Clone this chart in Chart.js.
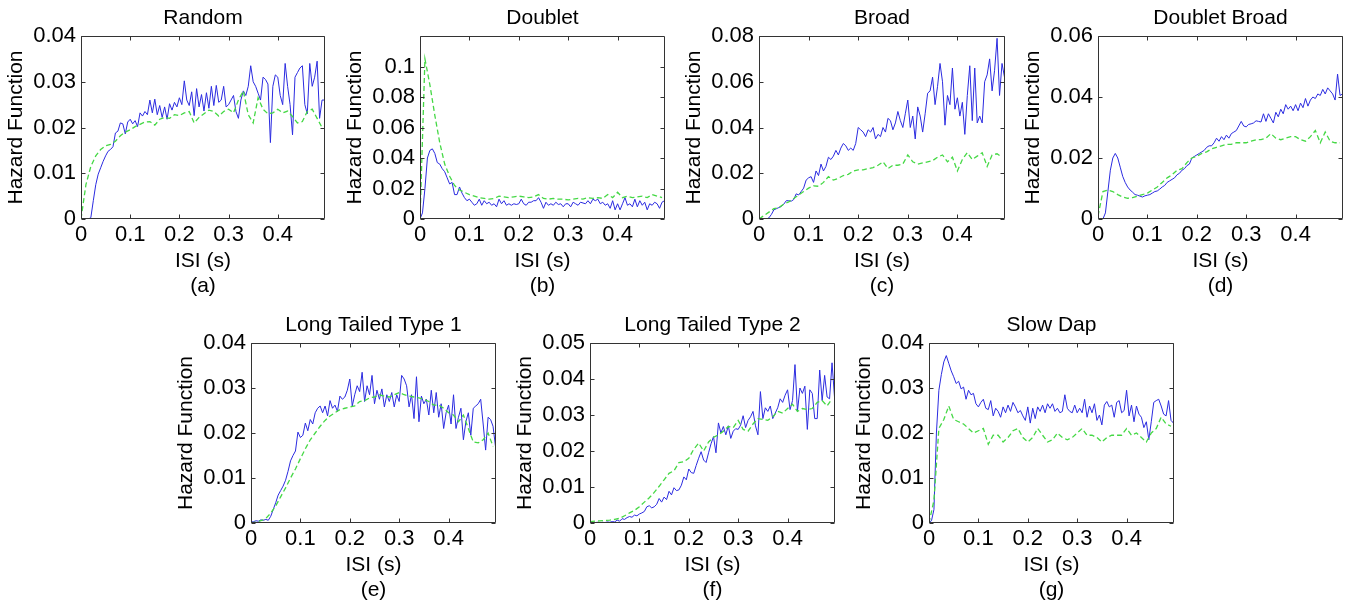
<!DOCTYPE html>
<html>
<head>
<meta charset="utf-8">
<script src="https://cdn.jsdelivr.net/npm/chart.js@4.4.0/dist/chart.umd.min.js"></script>
<style>
  body { margin: 0; background: #fff; }
  #fig { position: relative; width: 1347px; height: 605px; overflow: hidden; background: #fff; }
  #fig canvas { position: absolute; }
</style>
</head>
<body>
<div id="fig"></div>
<script>
// ISI bins (s): fine bins for the measured curve, coarse ones for the model curve
var isiFine = [0,0.005,0.01,0.015,0.02,0.025,0.03,0.035,0.04,0.045,
  0.05,0.055,0.06,0.065,0.07,0.075,0.08,0.085,0.09,0.095,
  0.1,0.105,0.11,0.115,0.12,0.125,0.13,0.135,0.14,0.145,
  0.15,0.155,0.16,0.165,0.17,0.175,0.18,0.185,0.19,0.195,
  0.2,0.205,0.21,0.215,0.22,0.225,0.23,0.235,0.24,0.245,
  0.25,0.255,0.26,0.265,0.27,0.275,0.28,0.285,0.29,0.295,
  0.3,0.305,0.31,0.315,0.32,0.325,0.33,0.335,0.34,0.345,
  0.35,0.355,0.36,0.365,0.37,0.375,0.38,0.385,0.39,0.395,
  0.4,0.405,0.41,0.415,0.42,0.425,0.43,0.435,0.44,0.445,
  0.45,0.455,0.46,0.465,0.47,0.475,0.48,0.485,0.49,0.495];
var isiCoarse = [0,0.01,0.02,0.03,0.04,0.05,0.06,0.07,0.08,0.09,
  0.1,0.11,0.12,0.13,0.14,0.15,0.16,0.17,0.18,0.19,
  0.2,0.21,0.22,0.23,0.24,0.25,0.26,0.27,0.28,0.29,
  0.3,0.31,0.32,0.33,0.34,0.35,0.36,0.37,0.38,0.39,
  0.4,0.41,0.42,0.43,0.44,0.45,0.46,0.47,0.48,0.49];

var titles = ["Random", "Doublet", "Broad", "Doublet Broad", "Long Tailed Type 1", "Long Tailed Type 2", "Slow Dap"];
var letters = ["(a)", "(b)", "(c)", "(d)", "(e)", "(f)", "(g)"];
var xTicks = [0, 0.1, 0.2, 0.3, 0.4];
var yMax = [0.04, 0.12, 0.08, 0.06, 0.04, 0.05, 0.04];
var yTicks = [
  [0, 0.01, 0.02, 0.03, 0.04],
  [0, 0.02, 0.04, 0.06, 0.08, 0.1],
  [0, 0.02, 0.04, 0.06, 0.08],
  [0, 0.02, 0.04, 0.06],
  [0, 0.01, 0.02, 0.03, 0.04],
  [0, 0.01, 0.02, 0.03, 0.04, 0.05],
  [0, 0.01, 0.02, 0.03, 0.04]
];

// measured hazard (blue, solid)
var blueRandom = [0,0,0,0,0.0003,0.004,0.0075,0.0098,0.0112,0.0126,
  0.0138,0.0148,0.0152,0.0158,0.0188,0.0192,0.021,0.0208,0.0186,0.0212,
  0.0218,0.0208,0.0215,0.0202,0.0232,0.0225,0.0235,0.0228,0.026,0.0232,
  0.0262,0.0228,0.0248,0.0222,0.0245,0.0218,0.0252,0.0238,0.0255,0.0245,
  0.0265,0.025,0.0302,0.026,0.0248,0.0278,0.0226,0.0285,0.0245,0.0272,
  0.0236,0.0276,0.0242,0.029,0.0248,0.0292,0.0255,0.026,0.029,0.0245,
  0.025,0.026,0.027,0.0235,0.022,0.026,0.028,0.027,0.029,0.0335,
  0.030,0.029,0.0275,0.026,0.031,0.0305,0.0295,0.0167,0.029,0.0315,
  0.031,0.027,0.025,0.034,0.029,0.025,0.0184,0.031,0.032,0.033,
  0.0335,0.025,0.023,0.034,0.029,0.031,0.0345,0.022,0.026,0.026];
var blueDoublet = [0,0.004,0.02,0.04,0.045,0.046,0.043,0.037,0.036,0.033,
  0.031,0.027,0.023,0.024,0.016,0.016,0.021,0.017,0.014,0.012,
  0.013,0.011,0.009,0.01,0.013,0.009,0.012,0.01,0.011,0.009,
  0.01,0.008,0.013,0.01,0.012,0.009,0.01,0.009,0.01,0.0095,
  0.01,0.013,0.01,0.009,0.011,0.011,0.012,0.012,0.014,0.011,
  0.007,0.011,0.009,0.01,0.009,0.011,0.0095,0.01,0.008,0.01,
  0.01,0.008,0.011,0.01,0.009,0.011,0.0105,0.01,0.012,0.01,
  0.013,0.012,0.013,0.01,0.011,0.009,0.01,0.007,0.012,0.006,
  0.01,0.006,0.01,0.014,0.009,0.01,0.008,0.013,0.008,0.012,
  0.009,0.011,0.006,0.01,0.009,0.011,0.01,0.007,0.011,0.012];
var blueBroad = [0,0,0,0,0.0005,0.002,0.004,0.0045,0.005,0.0055,
  0.0065,0.008,0.008,0.0078,0.0085,0.011,0.0105,0.012,0.0135,0.017,
  0.018,0.0185,0.016,0.021,0.019,0.024,0.021,0.023,0.027,0.026,
  0.0275,0.03,0.028,0.031,0.033,0.032,0.03,0.031,0.03,0.033,
  0.04,0.039,0.038,0.036,0.039,0.038,0.04,0.035,0.037,0.036,
  0.04,0.038,0.044,0.043,0.039,0.042,0.047,0.043,0.04,0.046,
  0.052,0.04,0.045,0.035,0.049,0.045,0.038,0.046,0.055,0.056,
  0.062,0.05,0.058,0.068,0.06,0.041,0.054,0.05,0.066,0.048,
  0.053,0.045,0.051,0.037,0.054,0.067,0.043,0.066,0.042,0.045,
  0.042,0.06,0.063,0.07,0.056,0.065,0.079,0.054,0.068,0.062];
var blueDoubletBroad = [0,0,0,0.002,0.009,0.016,0.02,0.0215,0.02,0.017,
  0.014,0.012,0.0105,0.0095,0.0088,0.008,0.0078,0.0075,0.0072,0.0076,
  0.0078,0.008,0.0085,0.009,0.0092,0.0098,0.0105,0.011,0.012,0.0125,
  0.013,0.0135,0.0145,0.015,0.016,0.0165,0.0175,0.018,0.02,0.0205,
  0.021,0.0215,0.022,0.0225,0.0235,0.024,0.024,0.025,0.0265,0.0255,
  0.027,0.026,0.0275,0.0265,0.028,0.0285,0.029,0.0305,0.032,0.0305,
  0.0302,0.031,0.0312,0.0315,0.0322,0.032,0.0318,0.0345,0.032,0.0345,
  0.033,0.0315,0.035,0.0335,0.036,0.0345,0.0375,0.036,0.037,0.0355,
  0.0375,0.0355,0.038,0.0365,0.0395,0.037,0.039,0.04,0.0395,0.041,
  0.0405,0.0425,0.041,0.043,0.042,0.041,0.039,0.0475,0.0405,0.041];
var blueLongTailed1 = [0.0002,0.0003,0.0005,0.0004,0.0007,0.0006,0.0008,0.0006,0.0015,0.003,
  0.0045,0.0062,0.0072,0.0082,0.0095,0.0115,0.0138,0.015,0.016,0.0202,
  0.019,0.0195,0.0222,0.0205,0.023,0.022,0.0245,0.0255,0.026,0.0245,
  0.026,0.0238,0.0272,0.0255,0.0262,0.0248,0.0282,0.0275,0.028,0.0295,
  0.032,0.026,0.0285,0.0305,0.0292,0.0335,0.027,0.0305,0.0285,0.0328,
  0.0265,0.0295,0.0275,0.0298,0.0258,0.0285,0.027,0.029,0.0258,0.0285,
  0.027,0.0328,0.032,0.0305,0.0258,0.0285,0.0232,0.0325,0.0225,0.0282,
  0.0265,0.0275,0.024,0.0295,0.0245,0.029,0.0235,0.0265,0.021,0.0245,
  0.0262,0.022,0.0285,0.021,0.0235,0.0255,0.0185,0.0225,0.0245,0.0195,
  0.0255,0.026,0.0265,0.0275,0.022,0.0162,0.0235,0.023,0.0215,0.017];
var blueLongTailed2 = [0,0,0.0001,0.0002,0,0.0002,0.0001,0.0003,0.0002,0.0004,
  0.0003,0.0008,0.0005,0.0012,0.001,0.0015,0.0018,0.0016,0.0022,0.002,
  0.0025,0.0028,0.0032,0.0045,0.0048,0.0042,0.0045,0.0052,0.0068,0.0058,
  0.0072,0.0065,0.0088,0.0078,0.0098,0.009,0.0092,0.0105,0.0128,0.012,
  0.015,0.014,0.0138,0.016,0.018,0.0198,0.0175,0.0168,0.0195,0.022,
  0.024,0.0195,0.0278,0.025,0.0268,0.0245,0.027,0.0235,0.0255,0.0262,
  0.026,0.0272,0.0298,0.0265,0.0285,0.0295,0.031,0.027,0.0245,0.0365,
  0.029,0.032,0.031,0.0325,0.029,0.0305,0.032,0.0345,0.0335,0.0355,
  0.037,0.0315,0.034,0.044,0.031,0.0375,0.036,0.038,0.026,0.037,
  0.036,0.029,0.029,0.0425,0.034,0.041,0.035,0.0345,0.0445,0.035];
var blueSlowDap = [0,0.0005,0.003,0.02,0.0295,0.033,0.0358,0.0372,0.0355,0.0338,
  0.0325,0.031,0.0315,0.0298,0.0302,0.0275,0.0295,0.0285,0.0288,0.0265,
  0.0258,0.0268,0.0275,0.0255,0.0252,0.0272,0.0238,0.0255,0.0248,0.0235,
  0.0258,0.0245,0.0262,0.0248,0.0268,0.0258,0.0245,0.025,0.0238,0.0228,
  0.0258,0.0222,0.0255,0.0232,0.0258,0.0248,0.0262,0.0245,0.0265,0.0255,
  0.0265,0.0248,0.0255,0.0245,0.0248,0.0285,0.0255,0.0248,0.0245,0.0262,
  0.0245,0.0255,0.0245,0.0275,0.0235,0.026,0.0245,0.0265,0.0228,0.024,
  0.0218,0.0262,0.027,0.0258,0.0262,0.0235,0.0268,0.0272,0.0245,0.025,
  0.0295,0.0238,0.0262,0.0225,0.026,0.0242,0.0235,0.0212,0.0225,0.0185,
  0.0225,0.0268,0.0272,0.0275,0.026,0.0242,0.0238,0.0272,0.0228,0.0222];

// model hazard (green, dashed)
var greenRandom = [0,0.0075,0.0115,0.0138,0.0152,0.016,0.0163,0.017,0.0182,0.019,
  0.0195,0.0202,0.0207,0.0212,0.0213,0.0205,0.0218,0.0222,0.022,0.0228,
  0.0226,0.0232,0.0235,0.021,0.0222,0.023,0.0238,0.0235,0.0225,0.0235,
  0.024,0.0232,0.026,0.028,0.0228,0.021,0.0265,0.024,0.023,0.0232,
  0.024,0.0232,0.0236,0.0224,0.021,0.0213,0.0235,0.024,0.022,0.02];
var greenDoublet = [0,0.105,0.088,0.068,0.05,0.036,0.028,0.022,0.019,0.0175,
  0.016,0.015,0.014,0.0135,0.013,0.0135,0.015,0.0145,0.014,0.0145,
  0.015,0.0145,0.014,0.0145,0.016,0.0135,0.013,0.0135,0.013,0.013,
  0.0125,0.013,0.0135,0.013,0.014,0.0135,0.014,0.0135,0.016,0.014,
  0.0175,0.014,0.015,0.014,0.0145,0.015,0.014,0.016,0.015,0.014];
var greenBroad = [0,0.0015,0.003,0.0045,0.005,0.0065,0.0075,0.009,0.0105,0.012,
  0.0135,0.0145,0.0143,0.016,0.0185,0.017,0.0178,0.019,0.0195,0.021,
  0.0215,0.0215,0.022,0.0225,0.0235,0.025,0.022,0.0235,0.0235,0.024,
  0.028,0.025,0.024,0.0245,0.025,0.0255,0.027,0.028,0.025,0.027,
  0.021,0.026,0.029,0.026,0.0275,0.029,0.023,0.028,0.0285,0.027];
var greenDoubletBroad = [0.001,0.009,0.0095,0.009,0.008,0.0072,0.0068,0.007,0.0075,0.008,
  0.0085,0.0095,0.0105,0.012,0.0135,0.0145,0.016,0.0165,0.0185,0.02,
  0.0205,0.0215,0.022,0.023,0.0235,0.024,0.0245,0.0245,0.025,0.025,
  0.025,0.0255,0.026,0.026,0.0265,0.028,0.0265,0.026,0.0265,0.027,
  0.027,0.026,0.0255,0.027,0.029,0.025,0.0285,0.0255,0.025,0.025];
var greenLongTailed1 = [0,0.0002,0.0005,0.001,0.0022,0.0038,0.0058,0.0078,0.01,0.012,
  0.0143,0.0165,0.0185,0.02,0.0215,0.0228,0.0238,0.0245,0.0252,0.0255,
  0.0258,0.026,0.027,0.0272,0.0278,0.028,0.0285,0.0282,0.028,0.0285,
  0.029,0.0285,0.0282,0.028,0.0278,0.0275,0.027,0.0262,0.0262,0.0255,
  0.0245,0.024,0.0225,0.024,0.021,0.018,0.0178,0.0185,0.02,0.017];
var greenLongTailed2 = [0.0004,0.0005,0.0006,0.0007,0.0008,0.001,0.0013,0.002,0.0028,0.0035,
  0.0045,0.0058,0.007,0.0085,0.0102,0.012,0.0138,0.0145,0.0168,0.017,
  0.018,0.0205,0.0222,0.02,0.0225,0.0238,0.0245,0.0255,0.0268,0.0265,
  0.0285,0.026,0.0255,0.0275,0.029,0.0288,0.0285,0.0295,0.031,0.0305,
  0.0318,0.033,0.031,0.0318,0.0315,0.0318,0.0335,0.034,0.0325,0.0345];
var greenSlowDap = [0,0.005,0.021,0.023,0.026,0.023,0.0225,0.022,0.021,0.02,
  0.0205,0.021,0.0175,0.0195,0.0195,0.018,0.019,0.0205,0.021,0.019,
  0.018,0.019,0.021,0.0195,0.018,0.0185,0.02,0.019,0.0185,0.019,
  0.02,0.021,0.0195,0.0195,0.019,0.018,0.019,0.0195,0.0195,0.0195,
  0.021,0.0195,0.02,0.019,0.018,0.02,0.021,0.0235,0.022,0.0215];

var blueSeries = [blueRandom, blueDoublet, blueBroad, blueDoubletBroad, blueLongTailed1, blueLongTailed2, blueSlowDap];
var greenSeries = [greenRandom, greenDoublet, greenBroad, greenDoubletBroad, greenLongTailed1, greenLongTailed2, greenSlowDap];

// plot area of each panel on the page: left, top, width, height
var boxes = [[81,36,244,183],[420,36,245,183],[759,36,246,183],[1098,36,245,183],
             [251,343,245,180],[590,343,245,180],[929,343,245,180]];
var padL = 81, padT = 36, padB = 80, padR = 4;

Chart.defaults.font.family = '"Liberation Sans", Arial, sans-serif';
Chart.defaults.color = '#000';

function fmt(v) { return String(+Number(v).toFixed(4)); }

// matlab style box with inward ticks on all four sides
var frame = {
  id: 'frame',
  afterDatasetsDraw: function(chart) {
    var a = chart.chartArea, ctx = chart.ctx, sx = chart.scales.x, sy = chart.scales.y;
    var L = Math.round(a.left) + 0.5, R = Math.round(a.right) - 0.5;
    var T = Math.round(a.top) + 0.5, B = Math.round(a.bottom) - 0.5;
    ctx.save();
    ctx.strokeStyle = '#333';
    ctx.lineWidth = 1;
    ctx.beginPath();
    ctx.rect(L, T, R - L, B - T);
    sx.ticks.forEach(function(t) {
      var p = Math.round(sx.getPixelForValue(t.value)) + 0.5;
      ctx.moveTo(p, B); ctx.lineTo(p, B - 4);
      ctx.moveTo(p, T); ctx.lineTo(p, T + 4);
    });
    sy.ticks.forEach(function(t) {
      var p = Math.round(sy.getPixelForValue(t.value)) + 0.5;
      ctx.moveTo(L, p); ctx.lineTo(L + 4, p);
      ctx.moveTo(R, p); ctx.lineTo(R - 4, p);
    });
    ctx.stroke();
    ctx.restore();
  }
};

var fig = document.getElementById('fig');

titles.forEach(function(t, i) {
  var b = boxes[i];
  var W = padL + b[2] + padR, H = padT + b[3] + padB;
  var c = document.createElement('canvas');
  c.width = W; c.height = H;
  c.style.left = (b[0] - padL) + 'px';
  c.style.top = (b[1] - padT) + 'px';
  c.style.width = W + 'px';
  c.style.height = H + 'px';
  fig.appendChild(c);

  var green = isiCoarse.map(function(x, k) { return {x: x, y: greenSeries[i][k]}; });
  var blue = isiFine.map(function(x, k) { return {x: x, y: blueSeries[i][k]}; });

  new Chart(c, {
    type: 'line',
    data: {
      datasets: [
        {data: green, borderColor: '#45d845', borderWidth: 1.3, borderDash: [5, 3], pointRadius: 0, tension: 0},
        {data: blue, borderColor: '#2b2be0', borderWidth: 1, pointRadius: 0, tension: 0}
      ]
    },
    options: {
      responsive: false,
      animation: false,
      devicePixelRatio: 1,
      layout: {padding: {right: padR}},
      plugins: {
        legend: {display: false},
        tooltip: {enabled: false},
        title: {display: true, text: t, fullSize: false, color: '#000',
          font: {size: 21, weight: 'normal', lineHeight: 1.2}, padding: {top: 6, bottom: 4.8}}
      },
      scales: {
        x: {
          type: 'linear', min: 0, max: 0.496,
          grid: {display: false, drawTicks: false}, border: {display: false},
          afterBuildTicks: function(s) { s.ticks = xTicks.map(function(v) { return {value: v}; }); },
          afterFit: function(s) { s.height = padB; },
          ticks: {padding: 3, font: {size: 22}, color: '#000', maxRotation: 0, callback: fmt},
          title: {display: true, text: ['ISI (s)', letters[i]], color: '#000',
            font: {size: 21, lineHeight: 1.2}, padding: {top: 0, bottom: 0}}
        },
        y: {
          min: 0, max: yMax[i],
          grid: {display: false, drawTicks: false}, border: {display: false},
          afterBuildTicks: function(s) { s.ticks = yTicks[i].map(function(v) { return {value: v}; }); },
          afterFit: function(s) { s.width = padL; },
          ticks: {padding: 5, font: {size: 22}, color: '#000', callback: fmt},
          title: {display: true, text: 'Hazard Function', color: '#000',
            font: {size: 21}, padding: {top: 4, bottom: 0}}
        }
      }
    },
    plugins: [frame]
  });
});
</script>
</body>
</html>
